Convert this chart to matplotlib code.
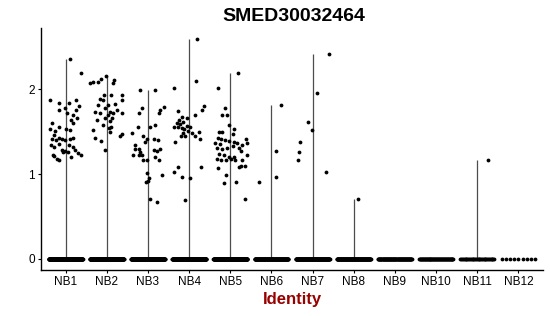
import matplotlib
matplotlib.use("Agg")
import matplotlib.pyplot as plt
import numpy as np

plt.rcParams['font.family'] = ['Liberation Sans', 'DejaVu Sans']

groups = ['NB1', 'NB2', 'NB3', 'NB4', 'NB5', 'NB6', 'NB7', 'NB8', 'NB9', 'NB10', 'NB11', 'NB12']

# number of cells with zero expression per group
zero_counts = [300, 300, 260, 280, 260, 160, 170, 150, 100, 70, 40, 9]

# non-zero expression values and their jitter offsets
nb1_vals = [2.36, 2.19, 1.87, 1.84, 1.76, 1.78, 1.84, 1.87, 1.80, 1.75, 1.72, 1.70, 1.66, 1.64,
            1.60, 1.60, 1.53, 1.51, 1.55, 1.53, 1.52, 1.46, 1.43, 1.41, 1.40, 1.41, 1.40, 1.41,
            1.43, 1.34, 1.32, 1.35, 1.34, 1.32, 1.28, 1.27, 1.26, 1.28, 1.25, 1.23, 1.21, 1.18,
            1.16, 1.20, 1.22, 1.26]
nb1_jit = [0.10, 0.38, -0.39, -0.16, -0.16, -0.02, 0.08, 0.24, 0.32, 0.24, 0.03, 0.18, 0.27, 0.14,
           -0.32, 0.18, -0.37, -0.27, -0.15, 0.02, 0.11, -0.29, -0.17, -0.32, -0.23, -0.10, -0.02, 0.10,
           0.19, -0.35, -0.29, -0.16, 0.08, 0.18, -0.10, -0.02, 0.06, 0.22, 0.30, 0.38, -0.29, -0.21,
           -0.15, 0.14, -0.31, -0.07]

nb2_vals = [2.07, 2.08, 2.09, 2.12, 2.15, 2.11, 2.07, 1.89, 1.87, 1.93, 1.93, 1.87, 1.73, 1.72,
            1.78, 1.81, 1.73, 1.72, 1.72, 1.64, 1.66, 1.62, 1.56, 1.50, 1.52, 1.45, 1.47, 1.43,
            1.39, 1.28, 1.81, 1.93, 1.70, 1.66, 1.58, 1.54, 1.83, 1.76]
nb2_jit = [-0.41, -0.33, -0.21, -0.15, -0.01, 0.17, 0.15, -0.17, -0.09, 0.11, 0.38, 0.38, -0.29, -0.17,
           -0.05, 0.03, 0.07, 0.15, 0.36, -0.25, -0.05, 0.07, 0.11, 0.07, -0.33, 0.32, 0.38, -0.29,
           -0.13, -0.05, -0.22, -0.07, 0.02, 0.12, -0.10, 0.05, 0.20, 0.24]

nb3_vals = [1.99, 1.99, 1.79, 1.75, 1.72, 1.78, 1.72, 1.48, 1.55, 1.55, 1.58, 1.45, 1.41, 1.38,
            1.41, 1.40, 1.34, 1.30, 1.26, 1.30, 1.23, 1.23, 1.23, 1.28, 1.27, 1.29, 1.20, 1.16,
            1.16, 1.16, 0.99, 1.01, 0.95, 0.92, 0.91, 0.71, 0.67]
nb3_jit = [-0.19, 0.18, 0.38, 0.30, 0.26, -0.15, -0.23, -0.39, -0.24, 0.06, 0.18, -0.11, -0.02, -0.07,
           0.14, 0.24, -0.31, -0.21, -0.19, -0.31, -0.36, -0.23, -0.15, 0.14, 0.22, 0.30, 0.16, 0.26,
           -0.11, -0.02, 0.34, -0.02, 0.02, 0.00, -0.04, 0.06, 0.22]

nb4_vals = [2.59, 2.01, 2.10, 1.74, 1.70, 1.80, 1.76, 1.67, 1.64, 1.60, 1.56, 1.55, 1.54, 1.57,
            1.59, 1.51, 1.48, 1.45, 1.38, 1.48, 1.45, 1.49, 1.41, 1.45, 1.02, 1.08, 0.97, 0.95,
            1.08, 0.69, 1.61, 1.66, 1.53, 1.55]
nb4_jit = [0.19, -0.38, 0.17, -0.27, 0.13, 0.37, 0.32, -0.18, -0.24, -0.30, -0.36, -0.26, -0.18, -0.06,
           -0.22, -0.02, -0.14, -0.19, -0.34, 0.08, 0.15, 0.23, 0.27, -0.10, -0.38, -0.27, -0.18, 0.02,
           0.29, -0.11, -0.15, -0.05, -0.12, 0.02]

nb5_vals = [2.19, 2.01, 1.78, 1.70, 1.70, 1.58, 1.53, 1.47, 1.49, 1.49, 1.42, 1.41, 1.40, 1.36,
            1.35, 1.39, 1.38, 1.36, 1.34, 1.41, 1.37, 1.31, 1.29, 1.31, 1.33, 1.31, 1.27, 1.24,
            1.22, 1.20, 1.20, 1.23, 1.18, 1.17, 1.17, 1.18, 1.16, 1.16, 1.10, 1.08, 1.09, 1.07,
            0.99, 0.89, 0.91, 0.71]
nb5_jit = [0.19, -0.30, -0.14, -0.19, -0.08, -0.02, 0.10, 0.06, -0.28, -0.20, -0.30, -0.22, -0.12, -0.36,
           -0.24, -0.02, 0.10, 0.16, 0.28, 0.38, 0.41, -0.32, -0.19, -0.08, 0.06, 0.20, 0.27, -0.28,
           -0.16, -0.04, 0.08, 0.41, -0.32, -0.22, -0.11, 0.02, 0.12, 0.28, 0.27, 0.20, 0.36, -0.30,
           -0.11, -0.16, 0.14, 0.36]

nb6_vals = [1.81, 1.27, 0.97, 0.91]
nb6_jit = [0.22, 0.10, 0.10, -0.31]

nb7_vals = [2.42, 1.95, 1.61, 1.52, 1.38, 1.26, 1.16, 1.02]
nb7_jit = [0.40, 0.11, -0.11, -0.01, -0.31, -0.32, -0.35, 0.32]

nb8_vals = [0.70]
nb8_jit = [0.10]

nb11_vals = [1.16]
nb11_jit = [0.26]

values = [nb1_vals, nb2_vals, nb3_vals, nb4_vals, nb5_vals, nb6_vals, nb7_vals, nb8_vals,
          [], [], nb11_vals, []]
jitters = [nb1_jit, nb2_jit, nb3_jit, nb4_jit, nb5_jit, nb6_jit, nb7_jit, nb8_jit,
           [], [], nb11_jit, []]

fig = plt.figure(figsize=(5.5, 3.16), dpi=100)
ax = fig.add_axes([0.0745, 0.146, 0.913, 0.765])

for i, g in enumerate(groups):
    pos = i + 1
    vals = values[i]
    # thin violin (data spread from 0 to max)
    if len(vals) > 0:
        ax.vlines(pos, 0, max(vals), color='0.3', lw=0.9, zorder=1)
    # zero cells
    xz = pos + np.linspace(-0.41, 0.41, zero_counts[i])
    ax.scatter(xz, np.zeros(zero_counts[i]), s=7.5, c='black', linewidths=0, zorder=2)
    # non-zero cells
    if len(vals) > 0:
        ax.scatter(pos + np.array(jitters[i]), vals, s=7.5, c='black', linewidths=0, zorder=2)

ax.set_xlim(0.4, 12.6)
ax.set_ylim(-0.13, 2.72)
ax.set_xticks(range(1, len(groups) + 1))
ax.set_xticklabels(groups)
ax.set_yticks([0, 1, 2])
ax.tick_params(labelsize=8.5, length=2.5, width=0.8, colors='black', pad=2)

for side in ['top', 'right']:
    ax.spines[side].set_visible(False)
for side in ['left', 'bottom']:
    ax.spines[side].set_linewidth(1.0)

ax.set_xlabel('Identity', fontsize=12, fontweight='bold', color='#990000', labelpad=3)
fig.text(0.535, 0.948, 'SMED30032464', fontsize=14, fontweight='bold', ha='center', va='center')

fig.savefig('out.png', dpi=100)
